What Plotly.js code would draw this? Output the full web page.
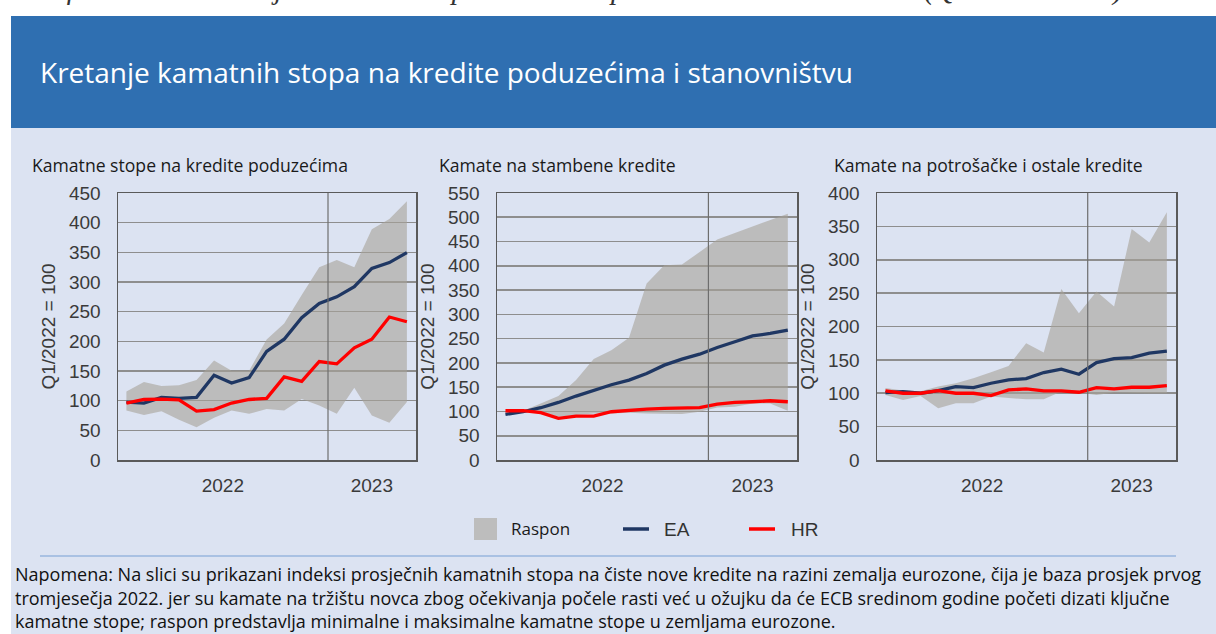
<!DOCTYPE html>
<html>
<head>
<meta charset="utf-8">
<script src="https://cdn.plot.ly/plotly-3.0.1.min.js"></script>
<style>
html,body{margin:0;padding:0;background:#fff;}
#chart{width:1216px;height:634px;}
</style>
</head>
<body>
<div id="chart"></div>
<script>
// ---- data (Q1/2022 = 100), monthly Jan 2022 - May 2023 ----
const months = ['2022-01','2022-02','2022-03','2022-04','2022-05','2022-06','2022-07','2022-08','2022-09','2022-10','2022-11','2022-12','2023-01','2023-02','2023-03','2023-04','2023-05'];
const yearLabels = ['2022','2023'];

// Panel 1: Kamatne stope na kredite poduzećima
const corpEA  = [97.6, 96, 105.5, 104, 105.5, 142.7, 129.7, 138.7, 183, 203.6, 239.7, 264, 275, 292, 323, 332.7, 349.6];
const corpHR  = [96, 102, 102.6, 101.5, 82.3, 85, 96, 102, 104, 140, 132.5, 166, 162, 189, 203.6, 241, 233];
const corpMax = [115.6, 131.4, 124.6, 125.8, 135, 167.5, 150.6, 150.6, 203, 230, 278, 325, 337, 325, 389, 406, 436];
const corpMin = [83.5, 76, 82, 67.7, 55, 71, 83.5, 77.8, 86, 83.5, 103, 92, 77.8, 121.8, 75, 62.6, 97.6];

// Panel 2: Kamate na stambene kredite
const houseEA  = [94, 99.4, 107.7, 118.6, 131.7, 144, 155, 164.6, 178.3, 195.4, 207.8, 218, 231.8, 243.5, 255.8, 260.6, 267.5];
const houseHR  = [101.5, 101.5, 97.4, 85.7, 90.5, 90.5, 99.4, 102.9, 105, 106.5, 107, 107.7, 115.2, 118.6, 120, 122, 120];
const houseMax = [96, 101.5, 116.6, 131.7, 164.6, 208, 226, 251.7, 363.5, 401.2, 402.6, 428.6, 454, 467.7, 481.4, 493.8, 507.5];
const houseMin = [92.6, 99.4, 99.4, 89, 92.6, 96, 96, 97.5, 96, 94.6, 94.6, 99.4, 108.4, 109.7, 116.6, 116.6, 101.5];

// Panel 3: Kamate na potrošačke i ostale kredite
const consEA  = [101, 102.5, 100, 104, 110, 108.5, 115, 120, 122, 131, 136, 128.5, 146, 152, 153.5, 160, 163];
const consHR  = [103.5, 100, 100, 104, 100, 100, 96.5, 105, 106.5, 103.5, 103.5, 101.5, 108.5, 106.5, 109, 109, 111.5];
const consMax = [108, 104, 103, 110, 115, 122.5, 131.5, 141, 175, 161, 256, 220, 252.5, 230, 346, 326, 371];
const consMin = [97.5, 90, 96, 77.5, 85, 85, 95, 92.5, 91, 91, 102.5, 101, 97.5, 101, 100, 100, 100];

const panelTitles = ['Kamatne stope na kredite poduzećima', 'Kamate na stambene kredite', 'Kamate na potrošačke i ostale kredite'];
const yMax = [450, 550, 400];
const seriesNames = ['Raspon', 'EA', 'HR'];
const yTitle = 'Q1/2022 = 100';
const titleText = 'Kretanje kamatnih stopa na kredite poduzećima i stanovništvu';
const captionText = 'Grafikon 4.11. Kretanje kamatnih stopa na kredite poduzećima i stanovništvu (Q1/2022 = 100)';
const noteLines = [
  'Napomena: Na slici su prikazani indeksi prosječnih kamatnih stopa na čiste nove kredite na razini zemalja eurozone, čija je baza prosjek prvog',
  'tromjesečja 2022. jer su kamate na tržištu novca zbog očekivanja počele rasti već u ožujku da će ECB sredinom godine početi dizati ključne',
  'kamatne stope; raspon predstavlja minimalne i maksimalne kamatne stope u zemljama eurozone.'
];

// ---- layout helpers ----
const W = 1216, H = 634;
const px = x => x / W;
const py = y => 1 - y / H;

const idx = months.map((m, i) => i);
const yearPos = yearLabels.map(y => {
  const ii = idx.filter(i => months[i].startsWith(y));
  return ii.reduce((a, b) => a + b, 0) / ii.length;
});
const yearBreak = idx.filter(i => months[i].startsWith(yearLabels[0])).length - 0.5;

const EA_COLOR = '#1f3763';
const HR_COLOR = '#ff0000';
const FILL = 'rgba(166,162,151,0.6)';
const NARROW = '"Liberation Sans", Arial, sans-serif';
const SANS = '"Open Sans", "Noto Sans", sans-serif';

const panels = [
  {EA: corpEA, HR: corpHR, mx: corpMax, mn: corpMin},
  {EA: houseEA, HR: houseHR, mx: houseMax, mn: houseMin},
  {EA: consEA, HR: consHR, mx: consMax, mn: consMin}
];
const xDom = [[118, 416], [497, 797], [877, 1176]];
const yDom = [193, 460];

const traces = [];
panels.forEach((p, k) => {
  const xa = k === 0 ? 'x' : 'x' + (k + 1);
  const ya = k === 0 ? 'y' : 'y' + (k + 1);
  traces.push({x: idx, y: p.mn, xaxis: xa, yaxis: ya, type: 'scatter', mode: 'lines',
    line: {width: 0, color: FILL}, hoverinfo: 'skip', showlegend: false});
  traces.push({x: idx, y: p.mx, xaxis: xa, yaxis: ya, type: 'scatter', mode: 'lines', fill: 'tonexty',
    fillcolor: FILL, line: {width: 0, color: FILL}, name: seriesNames[0], showlegend: false});
  traces.push({x: idx, y: p.EA, xaxis: xa, yaxis: ya, type: 'scatter', mode: 'lines',
    line: {width: 3.3, color: EA_COLOR}, name: seriesNames[1], showlegend: false});
  traces.push({x: idx, y: p.HR, xaxis: xa, yaxis: ya, type: 'scatter', mode: 'lines',
    line: {width: 3.3, color: HR_COLOR}, name: seriesNames[2], showlegend: false});
});

const layout = {
  width: W, height: H,
  margin: {l: 0, r: 0, t: 0, b: 0},
  paper_bgcolor: '#ffffff',
  plot_bgcolor: 'rgba(0,0,0,0)',
  showlegend: false,
  shapes: [
    {type: 'rect', xref: 'paper', yref: 'paper', x0: px(11), x1: px(1216), y0: py(128), y1: py(16),
      fillcolor: '#2f6fb1', line: {width: 0}, layer: 'below'},
    {type: 'rect', xref: 'paper', yref: 'paper', x0: px(11), x1: px(1216), y0: py(634), y1: py(128),
      fillcolor: '#dce3f2', line: {width: 0}, layer: 'below'},
    {type: 'line', xref: 'paper', yref: 'paper', x0: px(40), x1: px(1176), y0: py(556), y1: py(556),
      line: {color: '#a9c1e3', width: 2}},
    // legend swatches
    {type: 'rect', xref: 'paper', yref: 'paper', x0: px(474), x1: px(497), y0: py(540), y1: py(518),
      fillcolor: '#bdbdbd', line: {width: 0}},
    {type: 'line', xref: 'paper', yref: 'paper', x0: px(623), x1: px(649), y0: py(529), y1: py(529),
      line: {color: EA_COLOR, width: 3.5}},
    {type: 'line', xref: 'paper', yref: 'paper', x0: px(749), x1: px(775), y0: py(529), y1: py(529),
      line: {color: HR_COLOR, width: 3.5}}
  ],
  annotations: [
    {text: captionText, xref: 'paper', yref: 'paper', x: px(18), y: py(-11), xanchor: 'left', yanchor: 'middle',
      showarrow: false, font: {family: '"Liberation Serif", serif', size: 29, color: '#333', style: 'italic'}},
    {text: titleText, xref: 'paper', yref: 'paper', x: px(38), y: py(72), xanchor: 'left', yanchor: 'middle',
      showarrow: false, font: {family: SANS, size: 28, color: '#ffffff'}},
    {text: seriesNames[0], xref: 'paper', yref: 'paper', x: px(509), y: py(528), xanchor: 'left', yanchor: 'middle',
      showarrow: false, font: {family: SANS, size: 17, color: '#1a1a1a'}},
    {text: seriesNames[1], xref: 'paper', yref: 'paper', x: px(662), y: py(529), xanchor: 'left', yanchor: 'middle',
      showarrow: false, font: {family: NARROW, size: 19, color: '#333'}},
    {text: seriesNames[2], xref: 'paper', yref: 'paper', x: px(789), y: py(529), xanchor: 'left', yanchor: 'middle',
      showarrow: false, font: {family: NARROW, size: 19, color: '#333'}}
  ]
};

const subX = [30, 437, 832];
panelTitles.forEach((t, k) => {
  layout.annotations.push({text: t, xref: 'paper', yref: 'paper', x: px(subX[k]), y: py(165), xanchor: 'left', yanchor: 'middle',
    showarrow: false, font: {family: SANS, size: 17.6, color: '#1a1a1a'}});
});
noteLines.forEach((t, k) => {
  layout.annotations.push({text: t, xref: 'paper', yref: 'paper', x: px(13), y: py(574 + k * 23.5), xanchor: 'left', yanchor: 'middle',
    showarrow: false, font: {family: SANS, size: 18, color: '#111'}});
});

panels.forEach((p, k) => {
  const sx = k === 0 ? '' : String(k + 1);
  layout['xaxis' + sx] = {
    domain: [px(xDom[k][0]), px(xDom[k][1])],
    anchor: 'y' + sx,
    range: [-0.48, months.length - 0.48],
    tickmode: 'array', tickvals: yearPos, ticktext: yearLabels,
    showgrid: false, zeroline: false, ticks: '',
    showline: true, mirror: true, linecolor: '#5a5a5a', linewidth: 1.5,
    tickfont: {family: NARROW, size: 19, color: '#3a3a3a'},
    ticklabelstandoff: 8, fixedrange: true
  };
  layout['yaxis' + sx] = {
    domain: [py(yDom[1]), py(yDom[0])],
    anchor: 'x' + sx,
    range: [0, yMax[k]], dtick: 50, tick0: 0,
    showgrid: true, gridcolor: '#8e8e8e', gridwidth: 1.6,
    zeroline: false, ticks: '',
    showline: true, mirror: true, linecolor: '#5a5a5a', linewidth: 1.5,
    tickfont: {family: NARROW, size: 19, color: '#3a3a3a'},
    ticklabelstandoff: 12,
    title: {text: yTitle, font: {family: NARROW, size: 19, color: '#3a3a3a'}, standoff: 8},
    fixedrange: true
  };
  layout.shapes.push({type: 'line', xref: 'x' + sx, yref: 'y' + sx + ' domain', x0: yearBreak, x1: yearBreak, y0: 0, y1: 1,
    line: {color: '#6e6e6e', width: 1.2}});
});

Plotly.newPlot('chart', traces, layout, {displayModeBar: false, staticPlot: true});
</script>
</body>
</html>
